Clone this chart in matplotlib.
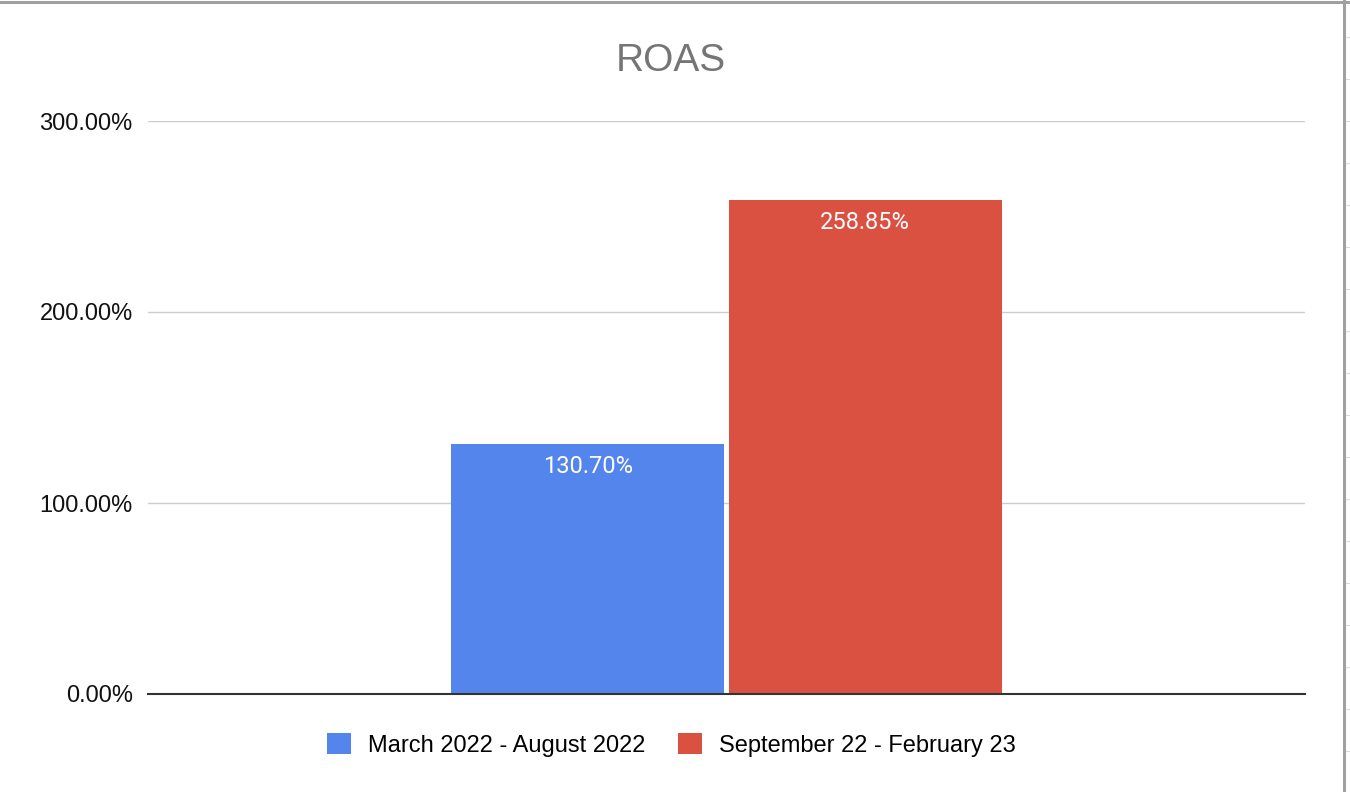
import matplotlib.pyplot as plt
from matplotlib.patches import Patch
from matplotlib.lines import Line2D
from matplotlib.ticker import FuncFormatter

title = "ROAS"
series = ["March 2022 - August 2022", "September 22 - February 23"]
roas = [130.70, 258.85]
colors = ["#5385EC", "#DA5141"]
yticks = [0, 100, 200, 300]

plt.rcParams["font.family"] = ["Liberation Sans", "DejaVu Sans"]

fig = plt.figure(figsize=(13.5, 7.92), dpi=100)
ax = fig.add_axes([148 / 1350, 1 - 694 / 792, (1305 - 148) / 1350, (694 - 121) / 792])

width = 0.472
offsets = [-0.2395, 0.2395]
for name, val, col, off in zip(series, roas, colors, offsets):
    ax.bar(off, val, width=width, color=col, label=name, zorder=3)
    ax.annotate(f"{val:.2f}%", (off, val), xytext=(0, -8), textcoords="offset points",
                ha="center", va="top", color="white", fontsize=17,
                family=["Roboto", "DejaVu Sans"], zorder=4)

ax.set_xlim(-1, 1)
ax.set_ylim(0, 300)
ax.set_yticks(yticks)
ax.yaxis.set_major_formatter(FuncFormatter(lambda v, p: f"{v:.2f}%"))
ax.tick_params(axis="y", length=0, pad=11, labelsize=17, labelcolor="#111111")
ax.set_xticks([])
ax.grid(axis="y", color="#cccccc", linewidth=1.0, zorder=0)
for s in ["top", "right", "left"]:
    ax.spines[s].set_visible(False)
ax.spines["bottom"].set_color("#333333")
ax.spines["bottom"].set_linewidth(1.5)
ax.spines["bottom"].set_zorder(5)

fig.text(671 / 1350, 1 - 61 / 792, title, ha="center", va="center",
         fontsize=28, color="#757575")

handles = [Patch(facecolor=c, edgecolor="none") for c in colors]
fig.legend(handles, series, loc="center", bbox_to_anchor=(671.5 / 1350, 1 - 745 / 792),
           ncol=2, frameon=False, fontsize=17, handlelength=1.0, handleheight=1.0,
           handletextpad=0.72, columnspacing=1.4)

# sheet borders around the chart
fig.add_artist(Line2D([0, 1], [1 - 1.5 / 792] * 2, color="#a0a0a0", lw=2.2))
fig.add_artist(Line2D([1344 / 1350] * 2, [0, 1], color="#a0a0a0", lw=2.2))
for y in range(37, 792, 42):
    fig.add_artist(Line2D([1346 / 1350, 1], [1 - y / 792] * 2, color="#dddddd", lw=0.8))

fig.savefig("out.png", dpi=100)
